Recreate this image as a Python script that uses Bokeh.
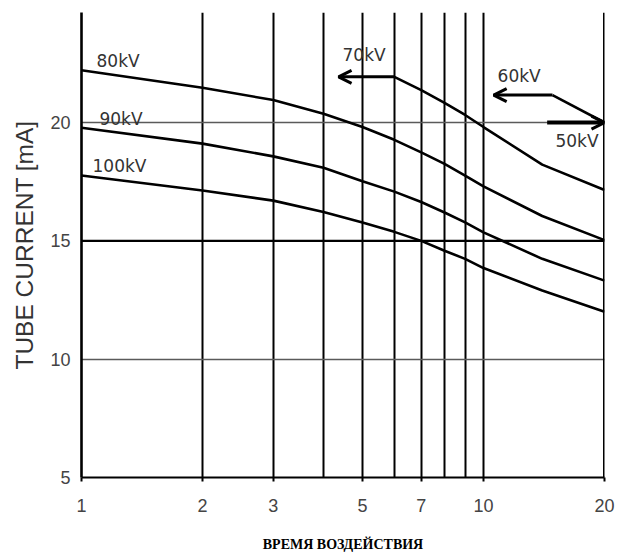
from bokeh.plotting import figure
from bokeh.models import FixedTicker, Span, Arrow, OpenHead, NumeralTickFormatter, Range1d
from bokeh.core.properties import value
from bokeh.embed import file_html
from bokeh.resources import INLINE

# ---- data ----
time_s = [1, 2, 3, 4, 5, 6, 7, 8, 9, 10, 14, 20]
kv80 = [22.21, 21.47, 20.95, 20.37, 19.81, 19.27, 18.74, 18.25, 17.76, 17.30, 16.05, 15.03]
kv90 = [19.78, 19.11, 18.57, 18.09, 17.52, 17.08, 16.64, 16.20, 15.78, 15.36, 14.24, 13.32]
kv100 = [17.76, 17.13, 16.70, 16.22, 15.78, 15.38, 15.00, 14.58, 14.24, 13.85, 12.90, 12.00]

kv70_time = [6, 7, 8, 9, 10, 14, 20]
kv70 = [21.93, 21.37, 20.83, 20.32, 19.81, 18.22, 17.15]
kv70_arrow_x = [6.0, 4.36]     # start, tip
kv70_arrow_y = 21.93

kv60_time = [14.85, 20]
kv60 = [21.16, 20.0]
kv60_arrow_x = [14.85, 10.6]
kv60_arrow_y = 21.16

kv50_arrow_x = [14.4, 20.0]
kv50_arrow_y = 20.0

x_ticks = [1, 2, 3, 5, 7, 10, 20]
x_grid = [2, 3, 4, 5, 6, 7, 8, 9, 10, 20]
y_ticks = [5, 10, 15, 20]
y_grid_light = [10, 20]
y_grid_dark = 15

labels = ["80kV", "90kV", "100kV", "70kV", "60kV", "50kV"]
label_x = [1.09, 1.108, 1.065, 4.46, 10.84, 15.1]
label_y = [22.6, 20.16, 18.18, 22.84, 21.96, 19.2]

# ---- figure ----
p = figure(width=617, height=554, x_axis_type="log",
           x_range=Range1d(1, 20), y_range=Range1d(5, 24.65),
           output_backend="svg", toolbar_location=None)
p.min_border_left = 81
p.min_border_right = 13
p.min_border_top = 12
p.min_border_bottom = 74
p.outline_line_color = None
p.background_fill_color = "white"
p.border_fill_color = "white"

# grids
p.xgrid.ticker = FixedTicker(ticks=x_grid)
p.xgrid.grid_line_color = "black"
p.xgrid.grid_line_width = 2
p.ygrid.ticker = FixedTicker(ticks=y_grid_light)
p.ygrid.grid_line_color = "#5a5a5a"
p.ygrid.grid_line_width = 1.5
p.add_layout(Span(location=y_grid_dark, dimension="width", line_color="black", line_width=2.2))
p.add_layout(Span(location=20, dimension="height", line_color="black", line_width=3))

# axes
p.xaxis.ticker = FixedTicker(ticks=x_ticks)
p.xaxis.formatter = NumeralTickFormatter(format="0")
p.yaxis.ticker = FixedTicker(ticks=y_ticks)
for ax in (p.xaxis, p.yaxis):
    ax.major_label_text_font = "Liberation Sans"
    ax.major_label_text_font_size = "18px"
    ax.major_label_text_color = "#444444"
    ax.axis_line_color = "black"
    ax.minor_tick_line_color = None
    ax.major_tick_in = 0
p.xaxis.axis_line_width = 2
p.yaxis.axis_line_width = 2.6
p.xaxis.major_tick_out = 4
p.xaxis.major_tick_line_width = 2
p.xaxis.major_tick_line_color = "black"
p.xaxis.major_label_standoff = 17
p.yaxis.major_tick_out = 0
p.yaxis.major_label_standoff = 11

p.yaxis.axis_label = "TUBE CURRENT [mA]"
p.yaxis.axis_label_text_font = "Liberation Sans"
p.yaxis.axis_label_text_font_size = "24.5px"
p.yaxis.axis_label_text_font_style = "normal"
p.yaxis.axis_label_text_color = "#333333"
p.yaxis.axis_label_standoff = 9

p.xaxis.axis_label = "ВРЕМЯ ВОЗДЕЙСТВИЯ"
p.xaxis.axis_label_text_font = "Liberation Serif"
p.xaxis.axis_label_text_font_size = "14px"
p.xaxis.axis_label_text_font_style = "bold"
p.xaxis.axis_label_text_color = "black"
p.xaxis.axis_label_standoff = 22

# curves
lw = 2.6
p.line(time_s, kv80, line_color="black", line_width=lw)
p.line(time_s, kv90, line_color="black", line_width=lw)
p.line(time_s, kv100, line_color="black", line_width=lw)
p.line(kv70_time, kv70, line_color="black", line_width=lw)
p.line(kv60_time, kv60, line_color="black", line_width=lw)

# arrows
p.add_layout(Arrow(x_start=kv70_arrow_x[0], x_end=kv70_arrow_x[1], y_start=kv70_arrow_y, y_end=kv70_arrow_y,
                   line_color="black", line_width=3,
                   end=OpenHead(size=13, line_width=3, line_color="black")))
p.add_layout(Arrow(x_start=kv60_arrow_x[0], x_end=kv60_arrow_x[1], y_start=kv60_arrow_y, y_end=kv60_arrow_y,
                   line_color="black", line_width=3,
                   end=OpenHead(size=13, line_width=3, line_color="black")))
p.add_layout(Arrow(x_start=kv50_arrow_x[0], x_end=kv50_arrow_x[1], y_start=kv50_arrow_y, y_end=kv50_arrow_y,
                   line_color="black", line_width=4,
                   end=OpenHead(size=13, line_width=3, line_color="black")))

# labels
p.text(x=label_x, y=label_y, text=labels, text_font=value("DejaVu Sans"),
       text_font_size="17px", text_color="#333333", text_baseline="middle", text_align="left")

open("out.html", "w").write(file_html(p, INLINE))
